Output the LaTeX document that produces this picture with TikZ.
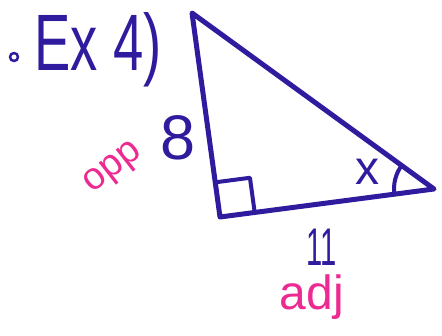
\documentclass[tikz,border=0pt]{standalone}
\usepackage{fontspec}
\setmainfont{Liberation Sans}
\usetikzlibrary{calc}
\definecolor{pen}{HTML}{2E1B9E}
\definecolor{hilite}{HTML}{EC2A92}
\tikzset{
    every picture/.style={line cap=round,line join=round},
    penline/.style={draw=pen,line width=5pt},
    markline/.style={draw=pen,line width=4pt},
    bluelabel/.style={text=pen,inner sep=0pt},
    pinklabel/.style={text=hilite,inner sep=0pt}
}

\begin{document}
\begin{tikzpicture}[x=1pt,y=1pt]
  \useasboundingbox (0,0) rectangle (442,335);
  % the triangle
  \coordinate (top) at (192,322);
  \coordinate (corner) at (220,118);
  \coordinate (tip) at (434,146);
  \draw[penline] (top) -- (corner) -- (tip) -- cycle;
  % right angle mark
  \coordinate (boxa) at ($(corner)!35pt!(tip)$);
  \coordinate (boxb) at ($(corner)!35pt!(top)$);
  \coordinate (boxc) at ($(boxa)+(boxb)-(corner)$);
  \draw[markline] (boxb) -- (boxc) -- (boxa);
  % angle x
  \coordinate (arcstart) at ($(tip)+(144:40)$);
  \draw[markline] (arcstart) arc[start angle=144,end angle=187,radius=40];

  \node[circle,draw=pen,line width=2.5pt,minimum size=8pt,inner sep=0pt] (bullet) at (14,278) {};
  \node[bluelabel,font=\fontsize{80}{80}\selectfont] (title) at (98,285)
    {\scalebox{0.68}[1]{Ex 4)}};
  \node[bluelabel,font=\fontsize{63}{63}\selectfont] (side) at (178,197) {8};
  \node[pinklabel,rotate=38,font=\fontsize{38}{38}\selectfont] (opp) at (114,166) {opp};
  \node[bluelabel,font=\fontsize{48}{48}\selectfont] (angle) at (367,163) {x};
  \node[bluelabel,font=\fontsize{53}{53}\selectfont] (base) at (322,88)
    {\scalebox{0.55}[1]{11}};
  \node[pinklabel,font=\fontsize{48}{48}\selectfont] (adj) at (312,38) {adj};
\end{tikzpicture}
\end{document}
